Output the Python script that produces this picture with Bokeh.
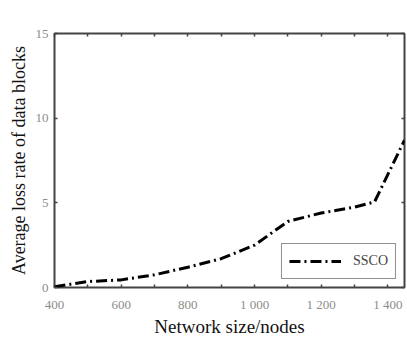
from bokeh.plotting import figure
from bokeh.models import Range1d, LinearAxis, FixedTicker
from bokeh.embed import file_html
from bokeh.resources import INLINE

# Data
network_size = [400, 500, 600, 700, 800, 900, 1000, 1100, 1200, 1300, 1360, 1450]
loss_rate = [0.05, 0.35, 0.45, 0.75, 1.2, 1.7, 2.5, 3.9, 4.4, 4.75, 5.05, 8.7]

x_major = [400, 600, 800, 1000, 1200, 1400]
x_minor = [500, 700, 900, 1100, 1300]
x_labels = {400: "400", 600: "600", 800: "800", 1000: "1 000", 1200: "1 200", 1400: "1 400"}
y_major = [0, 5, 10, 15]

SERIF = "Liberation Serif"

p = figure(width=407, height=339, x_range=Range1d(400, 1450), y_range=Range1d(0, 15),
           output_backend="svg", toolbar_location=None,
           min_border_left=54, min_border_right=3, min_border_top=33, min_border_bottom=50,
           background_fill_color="white", border_fill_color="white")
p.grid.visible = False
p.outline_line_color = "#444444"
p.outline_line_width = 2

xt = FixedTicker(ticks=x_major, minor_ticks=x_minor)
yt = FixedTicker(ticks=y_major, minor_ticks=[])

def style(ax, labels=True):
    ax.axis_line_color = None
    ax.major_tick_in = 3
    ax.major_tick_out = 0
    ax.minor_tick_in = 3
    ax.minor_tick_out = 0
    ax.major_tick_line_color = "#444444"
    ax.minor_tick_line_color = "#444444"
    ax.major_tick_line_width = 1.5
    ax.minor_tick_line_width = 1.5
    if labels:
        ax.major_label_text_font = SERIF
        ax.major_label_text_font_size = "13px"
        ax.major_label_text_color = "#8c8c8c"
    else:
        ax.major_label_overrides = {t: "" for t in ax.ticker.ticks}
        ax.major_label_standoff = 0

xa = p.xaxis[0]
xa.ticker = xt
xa.major_label_overrides = x_labels
style(xa)
xa.major_label_standoff = 9
xa.axis_label = "Network size/nodes"
xa.axis_label_text_font = SERIF
xa.axis_label_text_font_size = "19px"
xa.axis_label_text_font_style = "normal"
xa.axis_label_text_color = "#111111"
xa.axis_label_standoff = 1

ya = p.yaxis[0]
ya.ticker = yt
style(ya)
ya.major_label_standoff = 6
ya.axis_label = "Average loss rate of data blocks"
ya.axis_label_text_font = SERIF
ya.axis_label_text_font_size = "18px"
ya.axis_label_text_font_style = "normal"
ya.axis_label_text_color = "#111111"
ya.axis_label_standoff = 4

top = LinearAxis(ticker=xt)
style(top, labels=False)
p.add_layout(top, "above")
right = LinearAxis(ticker=yt)
style(right, labels=False)
p.add_layout(right, "right")

p.line(network_size, loss_rate, line_width=3, line_dash="11 4 2 4", line_color="black",
       legend_label="SSCO")

lg = p.legend[0]
lg.location = "bottom_right"
lg.margin = 8
lg.border_line_color = "#222222"
lg.border_line_width = 1.5
lg.label_text_font = SERIF
lg.label_text_font_size = "14px"
lg.glyph_width = 52
lg.label_standoff = 12
lg.padding = 7
lg.background_fill_alpha = 1

open("out.html", "w").write(file_html(p, INLINE))
